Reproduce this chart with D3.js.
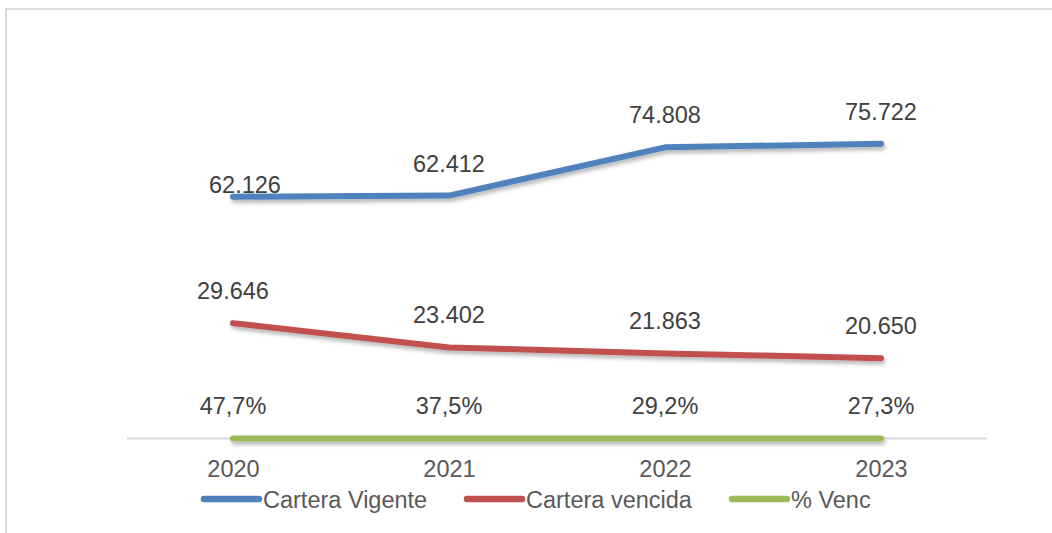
<!DOCTYPE html>
<html>
<head>
<meta charset="utf-8">
<script src="https://cdn.jsdelivr.net/npm/d3@7/dist/d3.min.js"></script>
<style>
  html, body { margin: 0; padding: 0; background: #fff; }
  svg { display: block; font-family: "Liberation Sans", Arial, sans-serif; }
</style>
</head>
<body>
<svg id="chart" width="1052" height="533"></svg>
<script>
// Portfolio data by year
const years = ["2020", "2021", "2022", "2023"];
const carteraVigente = [62126, 62412, 74808, 75722];
const carteraVencida = [29646, 23402, 21863, 20650];
const pctVenc = [0.477, 0.375, 0.292, 0.273];
const vigenteLabels = ["62.126", "62.412", "74.808", "75.722"];
const vencidaLabels = ["29.646", "23.402", "21.863", "20.650"];
const pctLabels = ["47,7%", "37,5%", "29,2%", "27,3%"];
const seriesNames = ["Cartera Vigente", "Cartera vencida", "% Venc"];

// Label placement tweaks (first Vigente label sits lower and to the right)
const vigenteNudge = [[12, 20], [0, 0], [0, 0], [0, 0]];

const series = [
  { name: seriesNames[0], values: carteraVigente, labels: vigenteLabels, color: "#4F81BD", nudge: vigenteNudge },
  { name: seriesNames[1], values: carteraVencida, labels: vencidaLabels, color: "#C0504D" },
  { name: seriesNames[2], values: pctVenc, labels: pctLabels, color: "#9BBB59" }
];

const svg = d3.select("#chart");

// Drop shadow for the lines (user-space region so flat lines keep their shadow)
const defs = svg.append("defs");
const f = defs.append("filter").attr("id", "shadow")
  .attr("filterUnits", "userSpaceOnUse")
  .attr("x", 0).attr("y", 0).attr("width", 1052).attr("height", 533);
f.append("feDropShadow").attr("dx", 1.5).attr("dy", 3).attr("stdDeviation", 2)
  .attr("flood-color", "#000").attr("flood-opacity", 0.3);

// Chart frame
svg.append("rect")
  .attr("x", 6).attr("y", 9).attr("width", 1060).attr("height", 540)
  .attr("fill", "none").attr("stroke", "#D9D9D9").attr("stroke-width", 2);

const x = d3.scalePoint().domain(years).range([125, 989]).padding(0.5);
const y = d3.scaleLinear().domain([0, 100000]).range([438.5, 49.3]);

// Category axis
const xAxis = svg.append("g").attr("transform", `translate(0,${y(0)})`)
  .call(d3.axisBottom(x).tickSize(0).tickPadding(22));
xAxis.select(".domain").attr("stroke", "#D9D9D9").attr("stroke-width", 2)
  .attr("d", `M127,0H987`);
xAxis.selectAll("text").attr("font-size", "23.5px").attr("fill", "#595959")
  .attr("font-family", "'Liberation Sans', Arial, sans-serif");

const line = d3.line().x((d, i) => x(years[i])).y(d => y(d));

series.forEach(s => {
  svg.append("path")
    .attr("d", line(s.values))
    .attr("fill", "none")
    .attr("stroke", s.color)
    .attr("stroke-width", 6)
    .attr("stroke-linecap", "round")
    .attr("stroke-linejoin", "round")
    .attr("filter", "url(#shadow)");
});

// Data labels above each point
series.forEach(s => {
  svg.append("g").selectAll("text")
    .data(s.values)
    .join("text")
    .attr("x", (d, i) => x(years[i]) + (s.nudge ? s.nudge[i][0] : 0))
    .attr("y", (d, i) => y(d) - 24 + (s.nudge ? s.nudge[i][1] : 0))
    .attr("text-anchor", "middle")
    .attr("font-size", "23.5px")
    .attr("fill", "#404040")
    .text((d, i) => s.labels[i]);
});

// Legend
const legendX = [203, 466, 731];
const legend = svg.append("g");
series.forEach((s, i) => {
  const g = legend.append("g").attr("transform", `translate(${legendX[i]},499)`);
  g.append("path").attr("d", "M1,0H56")
    .attr("fill", "none")
    .attr("stroke", s.color).attr("stroke-width", 6.5).attr("stroke-linecap", "round");
  g.append("text").attr("x", 60).attr("y", 9)
    .attr("font-size", "23.5px").attr("fill", "#595959")
    .text(s.name);
});
</script>
</body>
</html>
